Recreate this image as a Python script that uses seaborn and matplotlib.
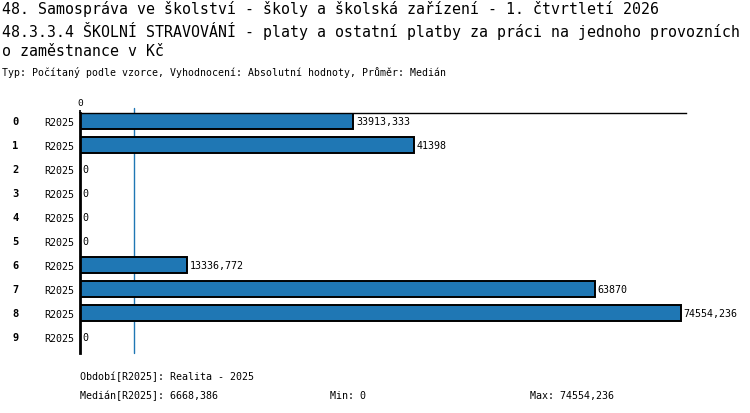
import numpy as np
import pandas as pd
import matplotlib
matplotlib.use("Agg")
import matplotlib.pyplot as plt
import seaborn as sns

# data
rows = ["0", "1", "2", "3", "4", "5", "6", "7", "8", "9"]
period = "R2025"
values = [33913.333, 41398, 0, 0, 0, 0, 13336.772, 63870, 74554.236, 0]

title_lines = [
    "48. Samospráva ve školství - školy a školská zařízení - 1. čtvrtletí 2026",
    "48.3.3.4 ŠKOLNÍ STRAVOVÁNÍ - platy a ostatní platby za práci na jednoho provozních",
    "o zaměstnance v Kč",
]
subtitle = "Typ: Počítaný podle vzorce, Vyhodnocení: Absolutní hodnoty, Průměr: Medián"
period_note = "Období[R2025]: Realita - 2025"


def cz(v):
    # cislo s desetinnou carkou, bez zbytecnych nul
    s = f"{v:.3f}".rstrip("0").rstrip(".")
    return s.replace(".", ",")


sns.set_theme(style="white")
plt.rcParams["font.family"] = ["DejaVu Sans Mono"]
plt.rcParams["text.color"] = "black"
plt.rcParams["xtick.color"] = "black"
plt.rcParams["ytick.color"] = "black"
plt.rcParams["axes.labelcolor"] = "black"

df = pd.DataFrame({"row": rows, "value": values})
med = float(np.median(values))

fig = plt.figure(figsize=(7.5, 4.14), dpi=100)
ax = fig.add_axes([80 / 750, 60 / 414, 606 / 750, 240 / 414])

sns.barplot(data=df, x="value", y="row", orient="h", color="#1f77b4",
            saturation=1, edgecolor="black", linewidth=1.4, width=0.64, ax=ax)

ax.set_xlim(0, 75200)
ax.set_ylim(9.67, -0.33)

# popisky hodnot
ax.bar_label(ax.containers[0], labels=[cz(v) for v in values],
             padding=2, fontsize=7.2, color="black")

# osa y: R2025 u kazdeho radku, cislo radku vlevo
ax.set_yticks(range(len(rows)))
ax.set_yticklabels([period] * len(rows), fontsize=7.2)
ax.tick_params(axis="y", length=0, pad=4)
for i, r in enumerate(rows):
    ax.text(-0.112, i, r, transform=ax.get_yaxis_transform(), ha="left",
            va="center", fontweight="bold", fontsize=7.5, color="black")

# osa x nahore, jen nula
ax.xaxis.tick_top()
ax.set_xticks([0])
ax.set_xticklabels(["0"])
ax.tick_params(axis="x", length=2, pad=2, labelsize=6.8, color="black")
ax.set_xlabel("")
ax.set_ylabel("")

for side in ["right", "bottom"]:
    ax.spines[side].set_visible(False)
ax.spines["top"].set_color("black")
ax.spines["top"].set_linewidth(1)
ax.spines["left"].set_color("black")
ax.spines["left"].set_linewidth(2)

# median
ax.axvline(med, ymin=0, ymax=1.02, color="#1f77b4", lw=1, clip_on=False, zorder=0)

# nadpisy
title_y = [9, 31, 51]
for line, y in zip(title_lines, title_y):
    fig.text(0.002, 1 - y / 414, line, fontsize=10.7, va="center")
fig.text(0.002, 1 - 73 / 414, subtitle, fontsize=7.15, va="center")

# paticka
fig.text(80 / 750, 1 - 377 / 414, period_note, fontsize=7.2, va="center")
fig.text(80 / 750, 1 - 396 / 414, f"Medián[{period}]: {cz(med)}", fontsize=7.2, va="center")
fig.text(330 / 750, 1 - 396 / 414, f"Min: {cz(min(values))}", fontsize=7.2, va="center")
fig.text(530 / 750, 1 - 396 / 414, f"Max: {cz(max(values))}", fontsize=7.2, va="center")

fig.savefig("out.png", dpi=100)
